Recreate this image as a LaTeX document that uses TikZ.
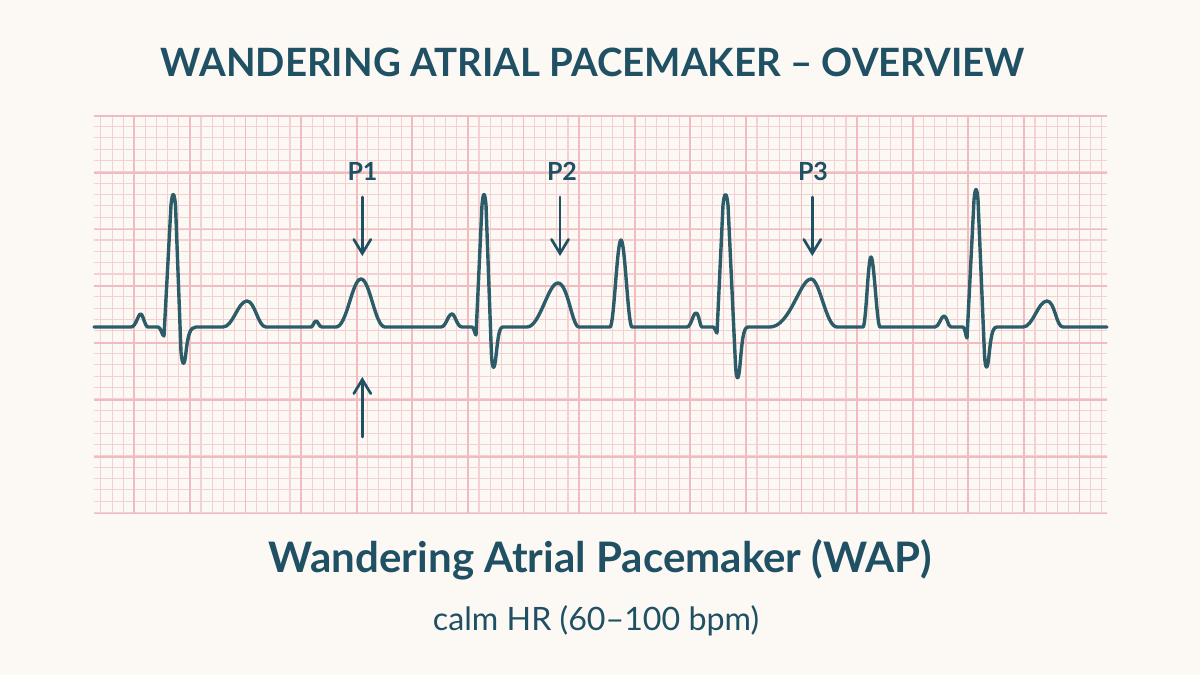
\documentclass[tikz,border=0pt]{standalone}
\usepackage{fontspec}
\setmainfont{Lato}
\usetikzlibrary{arrows.meta}
\definecolor{bg}{HTML}{FCF9F5}
\definecolor{ink}{HTML}{1F5063}
\definecolor{tracec}{HTML}{2B5C68}
\definecolor{gridminor}{HTML}{F5D0D2}
\definecolor{gridmajor}{HTML}{F1BCC0}
\tikzset{
  minorline/.style={draw=gridminor, line width=1.1pt},
  majorline/.style={draw=gridmajor, line width=1.8pt},
  ecg/.style={draw=tracec, line width=3.4pt, line join=round, line cap=round},
  arr/.style={draw=ink, line width=2.7pt, line cap=round, -{Straight Barb[length=14pt,width=17pt,line cap=round]}},
  plabel/.style={text=ink, font=\fontsize{25}{25}\selectfont\bfseries, inner sep=0pt, anchor=base},
}
\begin{document}
\begin{tikzpicture}[x=1pt,y=-1pt]
\fill[bg] (0,0) rectangle (1200,675);
\useasboundingbox (0,0) rectangle (1200,675);
% grid
\begin{scope}
\clip (94,115) rectangle (1107,513.5);
\foreach \i [evaluate=\i as \x using 134.3+11.12*\i] in {-4,...,88}
  \draw[minorline] (\x,110) -- (\x,520);
\foreach \j [evaluate=\j as \y using 115+11.36*\j] in {0,...,35}
  \draw[minorline] (90,\y) -- (1110,\y);
\foreach \k [evaluate=\k as \x using 134.3+55.6*\k] in {0,...,17}
  \draw[majorline] (\x,110) -- (\x,520);
\foreach \k [evaluate=\k as \y using 115.9+56.8*\k] in {0,...,7}
  \draw[majorline] (90,\y) -- (1110,\y);
\end{scope}
% trace
\draw[ecg] (94,327) -- (131,327)
  .. controls (136,327) and (138,314) .. (140.7,314) .. controls (143,314) and (145,327) .. (148,327)
  -- (158,327) .. controls (161,327) and (162,336) .. (164,336)
  -- (171,205) .. controls (172.5,191) and (174,191) .. (175.5,205)
  -- (181,352) .. controls (182.5,367) and (184.5,367) .. (186,352) .. controls (188,335) and (190,327) .. (196,327)
  -- (223,327) .. controls (233,327) and (238,301) .. (247,301) .. controls (255,301) and (258,327) .. (266,327)
  -- (311,327) .. controls (313,327) and (314,321) .. (316,321) .. controls (318,321) and (319,327) .. (322,327)
  -- (336,327) .. controls (347,327) and (352,279) .. (361,279) .. controls (370,279) and (375,327) .. (385,327)
  -- (441,327) .. controls (446,327) and (448,314) .. (452,314) .. controls (455,314) and (457,327) .. (462,327)
  -- (472,327) .. controls (474,327) and (475,335) .. (476,335)
  -- (482,205) .. controls (483.3,191) and (484.7,191) .. (486,205)
  -- (491.5,356) .. controls (492.5,371) and (494.5,371) .. (496,356) .. controls (498,338) and (499,327) .. (503,327)
  -- (527,327) .. controls (540,327) and (548,283) .. (558,283) .. controls (568,283) and (572,327) .. (579,327)
  -- (610,327) .. controls (614,327) and (617,240) .. (621,240) .. controls (625,240) and (628,327) .. (632,327)
  -- (687,327) .. controls (691,327) and (693,313) .. (696,313) .. controls (699,313) and (700,327) .. (702,327)
  -- (713,327) .. controls (715,327) and (716,333) .. (717,333)
  -- (723,205) .. controls (724.5,191) and (726.5,191) .. (728,205)
  -- (735.5,365) .. controls (736.5,382) and (738.5,382) .. (740,365) .. controls (742,343) and (743,327) .. (748,327)
  -- (770,327) .. controls (790,327) and (800,279) .. (811,279) .. controls (820,279) and (826,327) .. (837,327)
  -- (863,327) .. controls (866,327) and (868,257) .. (871,257) .. controls (874,257) and (877,327) .. (880,327)
  -- (935,327) .. controls (939,327) and (941,316) .. (944,316) .. controls (947,316) and (948,327) .. (951,327)
  -- (963,327) .. controls (965,327) and (966,338) .. (967,338)
  -- (974,200) .. controls (975.3,186) and (976.7,186) .. (978,200)
  -- (984.5,355) .. controls (985.5,371) and (987.5,371) .. (989,355) .. controls (991,338) and (992,327) .. (997,327)
  -- (1023,327) .. controls (1033,327) and (1038,301) .. (1047,301) .. controls (1055,301) and (1056,327) .. (1063,327)
  -- (1107,327);
% labels and arrows
\node[plabel] (p1) at (362.5,180) {P1};
\node[plabel] (p2) at (562,180) {P2};
\node[plabel] (p3) at (813,180) {P3};
\coordinate (p1a) at (362.3,197);
\coordinate (p1b) at (362.3,256);
\coordinate (p2a) at (560,197);
\coordinate (p2b) at (560,256);
\coordinate (p3a) at (812.3,197);
\coordinate (p3b) at (812.3,256);
\coordinate (upa) at (362.3,437);
\coordinate (upb) at (362.3,377);
\draw[arr] (p1a) -- (p1b);
\draw[arr] (p2a) -- (p2b);
\draw[arr] (p3a) -- (p3b);
\draw[arr] (upa) -- (upb);
% titles
\node[text=ink, inner sep=0pt, anchor=base] (title) at (593,76.7)
  {\resizebox{864pt}{28.5pt}{\bfseries WANDERING ATRIAL PACEMAKER – OVERVIEW}};
\node[text=ink, inner sep=0pt, anchor=base] (subtitle) at (600.5,572.3)
  {\resizebox{663pt}{!}{\bfseries Wandering Atrial Pacemaker (WAP)}};
\node[text=ink, inner sep=0pt, anchor=base] (rate) at (596,630)
  {\resizebox{326pt}{!}{calm HR (60–100 bpm)}};
\end{tikzpicture}
\end{document}
